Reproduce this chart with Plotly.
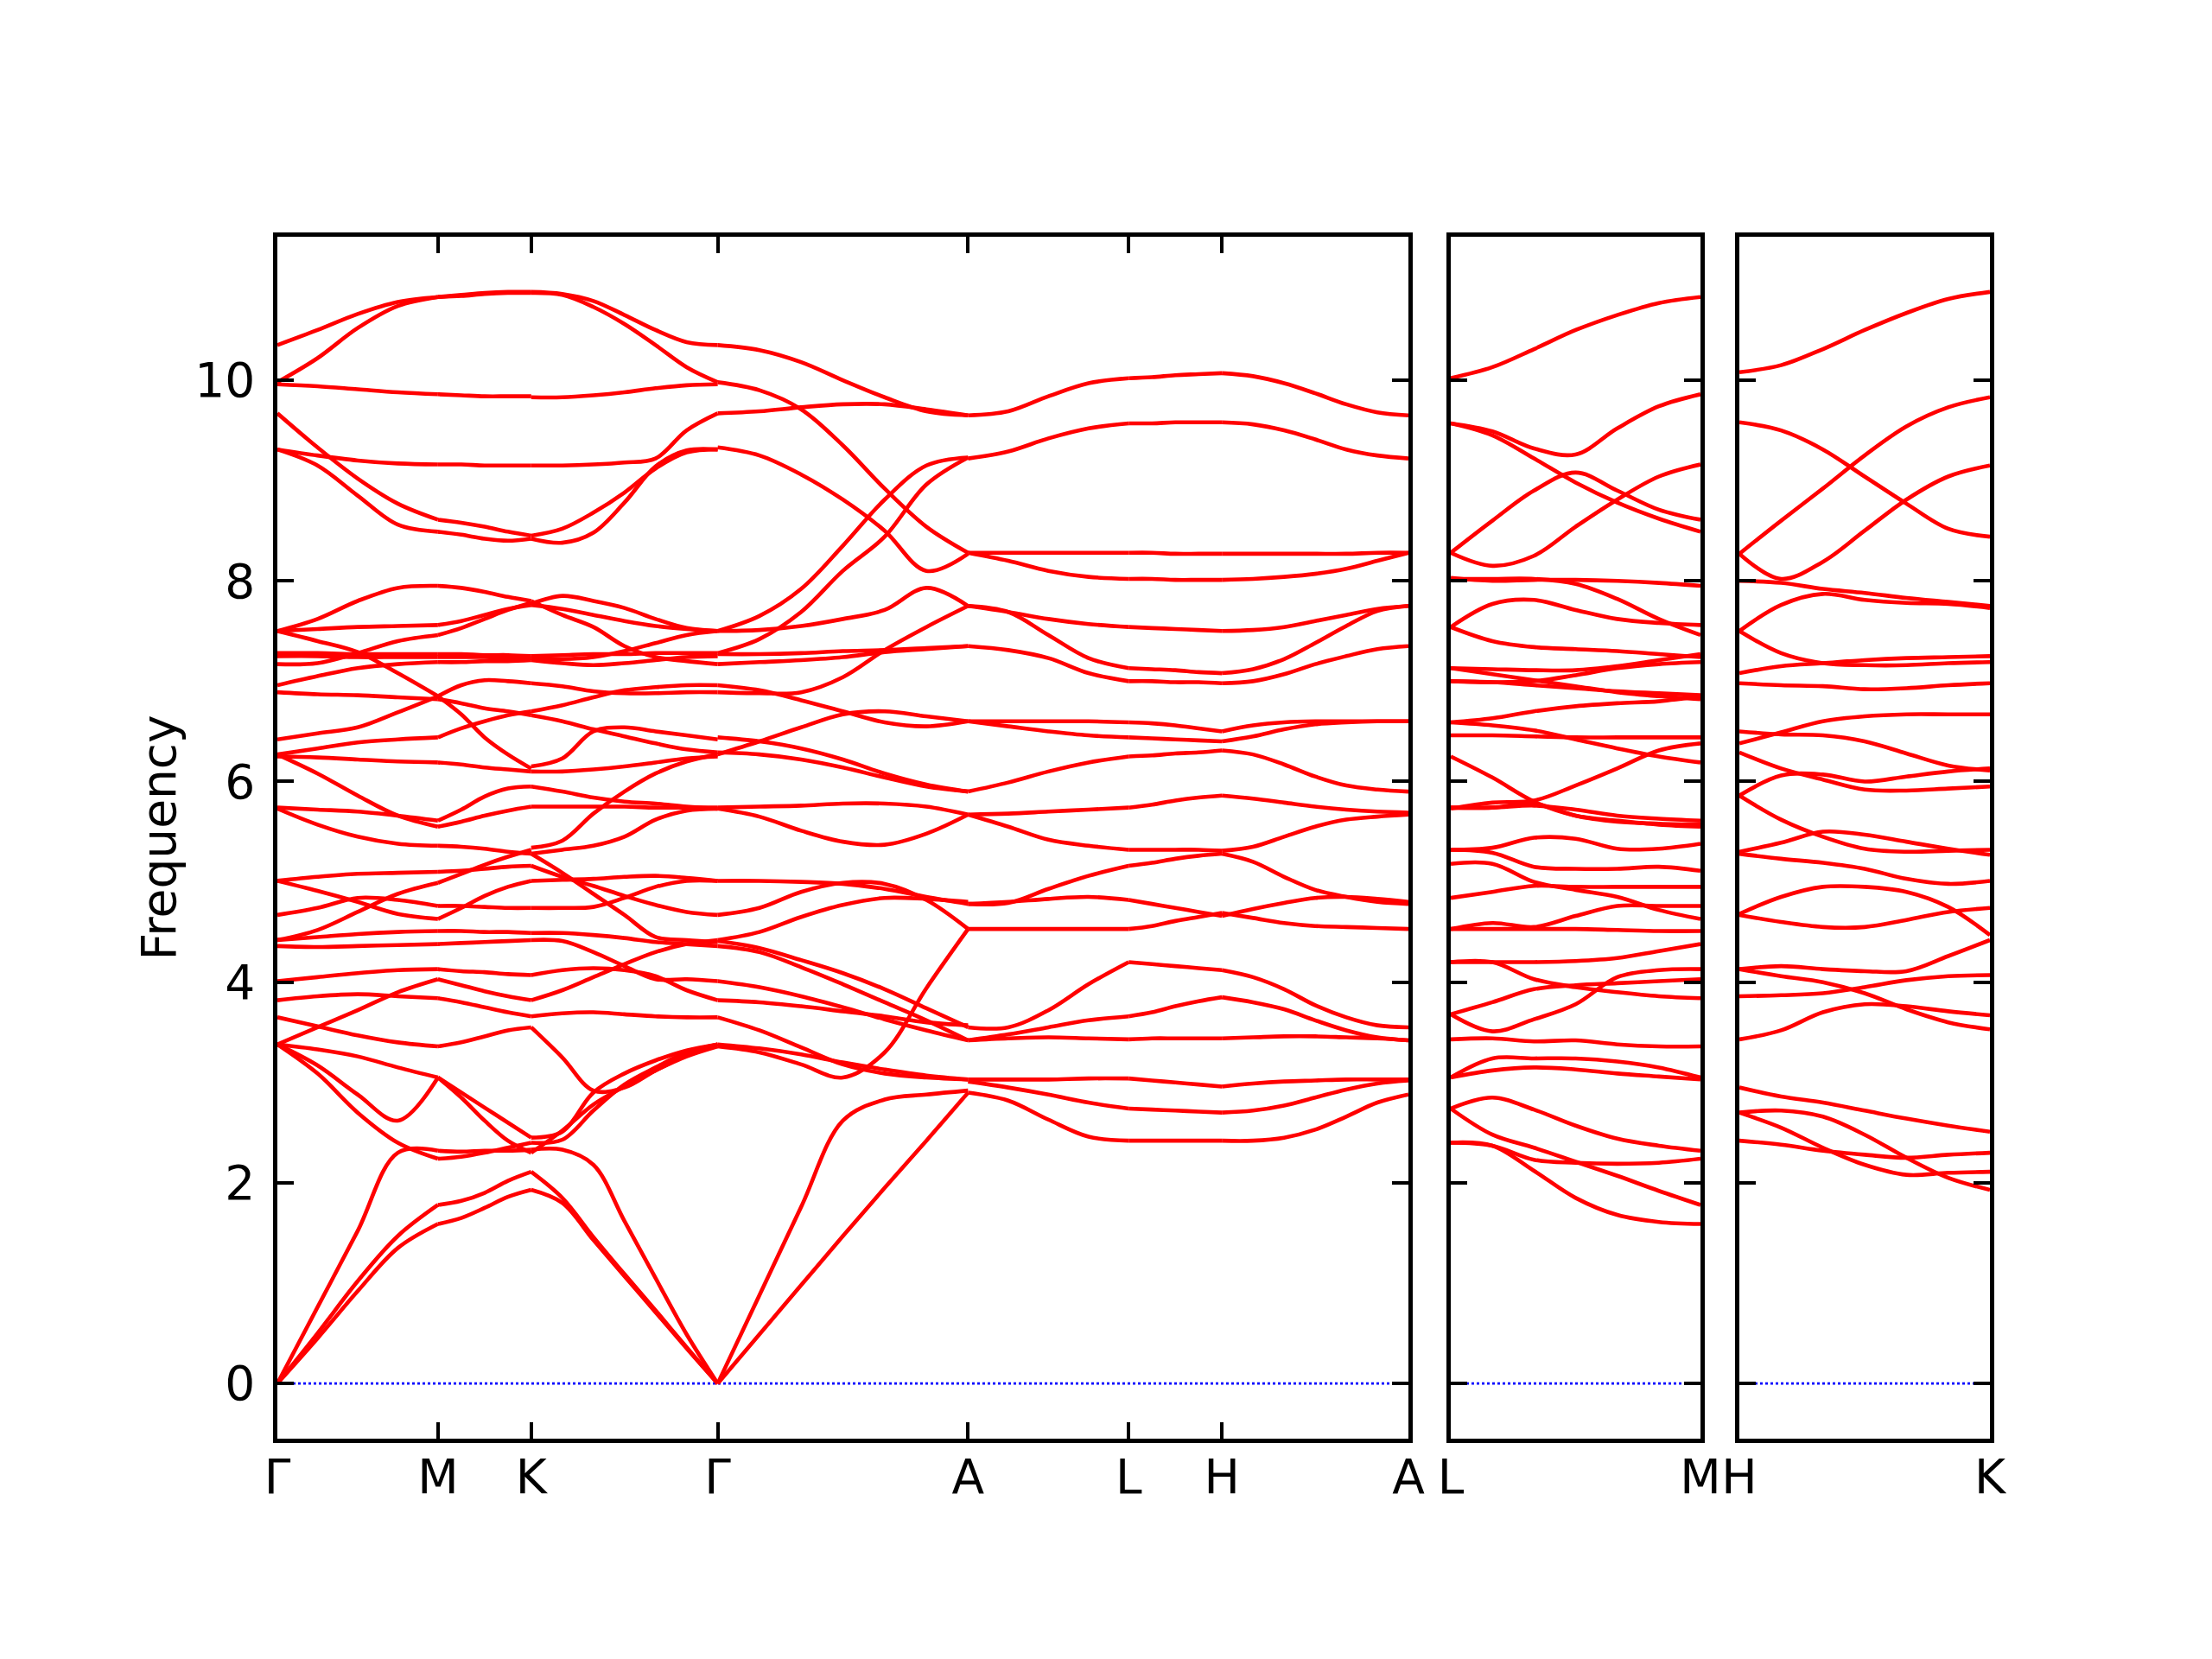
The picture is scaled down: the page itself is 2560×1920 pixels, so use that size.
import numpy as np
import plotly.graph_objects as go

# ---------------- labels / path geometry ----------------
p1_labels = ["Γ", "M", "K", "Γ", "A", "L", "H", "A"]
p1_seg_len = [186, 108, 216, 290, 186, 108, 216]
p2_labels = ["L", "M"]
p2_seg_len = [290]
p3_labels = ["H", "K"]
p3_seg_len = [290]
y_ticks = [0, 2, 4, 6, 8, 10]

# ---------------- band frequencies (THz) sampled evenly along each segment ----------------
band_G_M = [
    [10.35, 10.50, 10.66, 10.78, 10.83],
    [9.98, 10.22, 10.52, 10.74, 10.83],
    [9.96, 9.94, 9.91, 9.88, 9.86],
    [9.67, 9.33, 9.02, 8.77, 8.61],
    [9.31, 9.15, 8.85, 8.56, 8.49],
    [9.31, 9.25, 9.20, 9.17, 9.16],
    [7.50, 7.62, 7.80, 7.93, 7.95],
    [7.50, 7.52, 7.54, 7.55, 7.56],
    [7.50, 7.40, 7.29, 7.08, 6.85],
    [7.28, 7.28, 7.27, 7.27, 7.27],
    [7.25, 7.25, 7.24, 7.24, 7.24],
    [7.17, 7.18, 7.28, 7.40, 7.46],
    [6.96, 7.05, 7.13, 7.17, 7.19],
    [6.89, 6.87, 6.86, 6.84, 6.82],
    [6.42, 6.48, 6.54, 6.69, 6.85],
    [6.25, 6.24, 6.22, 6.20, 6.19],
    [6.27, 6.33, 6.39, 6.42, 6.44],
    [6.27, 6.08, 5.86, 5.66, 5.55],
    [5.74, 5.72, 5.70, 5.66, 5.61],
    [5.73, 5.57, 5.45, 5.38, 5.36],
    [5.01, 5.05, 5.08, 5.09, 5.10],
    [5.01, 4.91, 4.80, 4.68, 4.63],
    [4.67, 4.74, 4.84, 4.82, 4.76],
    [4.42, 4.45, 4.48, 4.50, 4.51],
    [4.42, 4.52, 4.70, 4.88, 4.99],
    [4.36, 4.35, 4.36, 4.37, 4.38],
    [4.01, 4.05, 4.09, 4.12, 4.13],
    [3.82, 3.86, 3.88, 3.86, 3.84],
    [3.65, 3.56, 3.47, 3.40, 3.36],
    [3.38, 3.55, 3.72, 3.90, 4.03],
    [3.38, 3.33, 3.26, 3.15, 3.05],
    [3.38, 3.17, 2.88, 2.62, 3.05],
    [3.38, 3.09, 2.70, 2.40, 2.24],
    [0.00, 0.76, 1.52, 2.30, 2.32],
    [0.00, 0.50, 1.02, 1.47, 1.78],
    [0.00, 0.45, 0.92, 1.35, 1.59],
]

band_M_K = [
    [10.83, 10.85, 10.87, 10.88, 10.88],
    [10.83, 10.84, 10.86, 10.87, 10.87],
    [9.86, 9.85, 9.84, 9.84, 9.84],
    [9.16, 9.16, 9.15, 9.15, 9.15],
    [8.61, 8.58, 8.54, 8.49, 8.45],
    [8.49, 8.46, 8.42, 8.40, 8.42],
    [7.95, 7.93, 7.89, 7.84, 7.80],
    [7.56, 7.60, 7.66, 7.72, 7.76],
    [7.46, 7.53, 7.62, 7.71, 7.78],
    [7.27, 7.27, 7.26, 7.26, 7.25],
    [7.24, 7.24, 7.24, 7.23, 7.23],
    [7.19, 7.19, 7.20, 7.20, 7.21],
    [6.85, 6.67, 6.44, 6.27, 6.13],
    [6.85, 6.96, 7.01, 7.00, 6.98],
    [6.82, 6.78, 6.73, 6.70, 6.66],
    [6.44, 6.53, 6.60, 6.66, 6.70],
    [6.19, 6.17, 6.14, 6.12, 6.10],
    [5.61, 5.72, 5.85, 5.93, 5.95],
    [5.55, 5.60, 5.66, 5.71, 5.75],
    [5.36, 5.35, 5.33, 5.30, 5.28],
    [4.99, 5.08, 5.17, 5.25, 5.32],
    [5.10, 5.11, 5.13, 5.15, 5.16],
    [4.76, 4.76, 4.75, 4.74, 4.74],
    [4.63, 4.74, 4.86, 4.95, 5.01],
    [4.51, 4.51, 4.50, 4.50, 4.49],
    [4.38, 4.39, 4.40, 4.41, 4.42],
    [4.13, 4.11, 4.10, 4.08, 4.07],
    [4.03, 3.97, 3.91, 3.86, 3.82],
    [3.84, 3.80, 3.75, 3.70, 3.66],
    [3.36, 3.40, 3.46, 3.52, 3.55],
    [3.05, 2.90, 2.75, 2.60, 2.45],
    [3.05, 2.85, 2.62, 2.42, 2.30],
    [2.32, 2.31, 2.32, 2.32, 2.33],
    [2.24, 2.26, 2.30, 2.35, 2.40],
    [1.78, 1.82, 1.90, 2.02, 2.11],
    [1.59, 1.65, 1.75, 1.86, 1.93],
]

band_K_G = [
    [10.88, 10.86, 10.79, 10.65, 10.50, 10.38, 10.35],
    [10.87, 10.85, 10.73, 10.56, 10.35, 10.13, 9.98],
    [9.83, 9.83, 9.85, 9.88, 9.92, 9.95, 9.96],
    [9.15, 9.15, 9.16, 9.18, 9.22, 9.50, 9.67],
    [8.45, 8.52, 8.68, 8.88, 9.12, 9.28, 9.31],
    [8.42, 8.38, 8.48, 8.78, 9.14, 9.30, 9.31],
    [7.77, 7.85, 7.80, 7.73, 7.62, 7.53, 7.50],
    [7.80, 7.66, 7.54, 7.35, 7.24, 7.20, 7.17],
    [7.76, 7.72, 7.66, 7.60, 7.55, 7.52, 7.50],
    [7.25, 7.26, 7.27, 7.27, 7.28, 7.28, 7.28],
    [7.23, 7.22, 7.24, 7.30, 7.38, 7.46, 7.50],
    [7.21, 7.18, 7.16, 7.18, 7.21, 7.24, 7.25],
    [6.98, 6.95, 6.90, 6.88, 6.88, 6.89, 6.89],
    [6.70, 6.76, 6.84, 6.91, 6.94, 6.96, 6.96],
    [6.66, 6.60, 6.52, 6.45, 6.38, 6.32, 6.29],
    [6.15, 6.23, 6.50, 6.54, 6.50, 6.46, 6.42],
    [6.10, 6.10, 6.12, 6.15, 6.19, 6.23, 6.25],
    [5.34, 5.41, 5.68, 5.90, 6.08, 6.20, 6.27],
    [5.95, 5.90, 5.84, 5.80, 5.78, 5.75, 5.73],
    [5.75, 5.75, 5.75, 5.75, 5.74, 5.74, 5.74],
    [5.28, 5.32, 5.36, 5.45, 5.62, 5.71, 5.73],
    [5.28, 5.09, 4.88, 4.67, 4.45, 4.42, 4.40],
    [5.01, 5.02, 5.03, 5.05, 5.06, 5.04, 5.01],
    [5.16, 5.05, 4.96, 4.86, 4.77, 4.70, 4.67],
    [4.74, 4.74, 4.75, 4.84, 4.95, 5.01, 5.01],
    [4.49, 4.49, 4.47, 4.44, 4.40, 4.38, 4.36],
    [4.42, 4.41, 4.30, 4.16, 4.03, 4.03, 4.01],
    [4.07, 4.12, 4.14, 4.12, 4.06, 3.92, 3.82],
    [3.82, 3.92, 4.05, 4.18, 4.30, 4.38, 4.42],
    [3.66, 3.69, 3.70, 3.68, 3.66, 3.65, 3.65],
    [3.55, 3.25, 2.92, 2.95, 3.12, 3.27, 3.38],
    [2.45, 2.51, 2.90, 3.09, 3.22, 3.32, 3.38],
    [2.40, 2.43, 2.72, 2.98, 3.15, 3.30, 3.38],
    [2.30, 2.52, 2.78, 2.96, 3.12, 3.26, 3.36],
    [2.33, 2.33, 2.18, 1.62, 1.05, 0.49, 0.00],
    [2.11, 1.85, 1.46, 1.09, 0.73, 0.36, 0.00],
    [1.93, 1.80, 1.43, 1.07, 0.71, 0.35, 0.00],
]

band_G_A = [
    [10.35, 10.30, 10.18, 10.00, 9.83, 9.69, 9.65],
    [9.98, 9.90, 9.71, 9.35, 8.92, 8.54, 8.28],
    [9.67, 9.69, 9.73, 9.76, 9.76, 9.71, 9.65],
    [9.33, 9.25, 9.06, 8.81, 8.50, 8.10, 8.27],
    [7.50, 7.65, 7.92, 8.35, 8.81, 9.15, 9.23],
    [7.28, 7.42, 7.69, 8.10, 8.44, 8.96, 9.23],
    [7.50, 7.51, 7.55, 7.62, 7.71, 7.93, 7.75],
    [7.27, 7.27, 7.28, 7.30, 7.31, 7.33, 7.35],
    [7.17, 7.19, 7.21, 7.24, 7.29, 7.32, 7.35],
    [6.96, 6.91, 6.81, 6.70, 6.59, 6.55, 6.60],
    [6.89, 6.88, 6.89, 7.04, 7.31, 7.54, 7.75],
    [6.44, 6.40, 6.33, 6.22, 6.08, 5.97, 5.90],
    [6.29, 6.27, 6.22, 6.14, 6.04, 5.95, 5.90],
    [6.27, 6.40, 6.54, 6.67, 6.70, 6.65, 6.60],
    [5.74, 5.75, 5.76, 5.78, 5.78, 5.75, 5.67],
    [5.73, 5.65, 5.51, 5.40, 5.37, 5.48, 5.67],
    [5.01, 5.01, 5.00, 4.98, 4.93, 4.85, 4.78],
    [4.67, 4.74, 4.90, 4.99, 4.98, 4.82, 4.53],
    [4.42, 4.50, 4.65, 4.77, 4.84, 4.83, 4.80],
    [4.41, 4.34, 4.22, 4.09, 3.93, 3.74, 3.55],
    [4.36, 4.30, 4.15, 3.98, 3.80, 3.62, 3.42],
    [4.01, 3.95, 3.86, 3.75, 3.63, 3.52, 3.42],
    [3.82, 3.80, 3.76, 3.71, 3.66, 3.60, 3.57],
    [3.65, 3.52, 3.35, 3.18, 3.09, 3.05, 3.03],
    [3.38, 3.34, 3.28, 3.20, 3.13, 3.07, 3.03],
    [3.36, 3.30, 3.18, 3.05, 3.30, 3.94, 4.53],
    [0.00, 0.88, 1.76, 2.62, 2.83, 2.88, 2.92],
    [0.00, 0.49, 0.98, 1.47, 1.95, 2.42, 2.90],
]

band_A_L = [
    [9.65, 9.69, 9.84, 9.97, 10.02],
    [9.22, 9.29, 9.42, 9.52, 9.57],
    [8.28, 8.28, 8.28, 8.28, 8.28],
    [8.28, 8.20, 8.10, 8.04, 8.02],
    [7.75, 7.69, 7.62, 7.57, 7.54],
    [7.75, 7.69, 7.46, 7.23, 7.13],
    [7.35, 7.31, 7.23, 7.08, 7.00],
    [6.60, 6.60, 6.60, 6.60, 6.59],
    [6.60, 6.55, 6.50, 6.46, 6.44],
    [5.90, 5.99, 6.10, 6.19, 6.25],
    [5.67, 5.68, 5.70, 5.72, 5.74],
    [5.67, 5.55, 5.42, 5.36, 5.32],
    [4.78, 4.79, 4.93, 5.06, 5.16],
    [4.78, 4.80, 4.83, 4.85, 4.82],
    [4.53, 4.53, 4.53, 4.53, 4.53],
    [3.55, 3.55, 3.72, 3.98, 4.20],
    [3.42, 3.48, 3.55, 3.62, 3.66],
    [3.42, 3.44, 3.45, 3.44, 3.43],
    [3.03, 3.03, 3.03, 3.04, 3.04],
    [3.01, 2.95, 2.88, 2.80, 2.74],
    [2.90, 2.82, 2.63, 2.46, 2.42],
]

band_L_H = [
    [10.02, 10.03, 10.05, 10.06, 10.07],
    [9.57, 9.57, 9.58, 9.58, 9.58],
    [8.28, 8.28, 8.27, 8.27, 8.27],
    [8.02, 8.02, 8.01, 8.01, 8.01],
    [7.54, 7.53, 7.52, 7.51, 7.50],
    [7.13, 7.12, 7.11, 7.09, 7.08],
    [7.00, 7.00, 6.99, 6.99, 6.98],
    [6.59, 6.58, 6.56, 6.53, 6.50],
    [6.44, 6.43, 6.42, 6.41, 6.40],
    [6.25, 6.26, 6.28, 6.29, 6.31],
    [5.74, 5.77, 5.81, 5.84, 5.86],
    [5.32, 5.32, 5.32, 5.32, 5.31],
    [5.16, 5.19, 5.23, 5.26, 5.28],
    [4.82, 4.78, 4.74, 4.70, 4.66],
    [4.53, 4.56, 4.61, 4.65, 4.69],
    [4.20, 4.18, 4.16, 4.14, 4.12],
    [3.66, 3.70, 3.76, 3.81, 3.85],
    [3.43, 3.44, 3.44, 3.44, 3.44],
    [3.04, 3.02, 3.00, 2.98, 2.96],
    [2.74, 2.73, 2.72, 2.71, 2.70],
    [2.42, 2.42, 2.42, 2.42, 2.42],
]

band_H_A = [
    [10.07, 10.04, 9.97, 9.87, 9.76, 9.68, 9.65],
    [9.58, 9.56, 9.50, 9.41, 9.31, 9.25, 9.22],
    [8.27, 8.27, 8.27, 8.27, 8.27, 8.28, 8.28],
    [8.01, 8.02, 8.04, 8.07, 8.12, 8.20, 8.28],
    [7.50, 7.51, 7.54, 7.60, 7.66, 7.72, 7.75],
    [7.08, 7.12, 7.22, 7.38, 7.55, 7.70, 7.75],
    [6.98, 7.00, 7.07, 7.17, 7.25, 7.32, 7.35],
    [6.50, 6.56, 6.59, 6.60, 6.60, 6.60, 6.60],
    [6.40, 6.45, 6.52, 6.57, 6.59, 6.60, 6.60],
    [6.31, 6.27, 6.17, 6.05, 5.96, 5.92, 5.90],
    [5.86, 5.83, 5.79, 5.75, 5.72, 5.70, 5.69],
    [5.31, 5.35, 5.45, 5.55, 5.62, 5.65, 5.67],
    [5.28, 5.20, 5.05, 4.92, 4.85, 4.80, 4.78],
    [4.66, 4.73, 4.79, 4.84, 4.85, 4.83, 4.80],
    [4.69, 4.64, 4.59, 4.56, 4.55, 4.54, 4.53],
    [4.12, 4.05, 3.93, 3.77, 3.65, 3.57, 3.55],
    [3.85, 3.80, 3.73, 3.62, 3.52, 3.45, 3.42],
    [3.44, 3.45, 3.46, 3.46, 3.45, 3.44, 3.42],
    [2.96, 2.99, 3.01, 3.02, 3.03, 3.03, 3.03],
    [2.70, 2.72, 2.77, 2.85, 2.93, 2.99, 3.02],
    [2.42, 2.42, 2.45, 2.53, 2.66, 2.80, 2.88],
]

band_L_M = [
    [10.02, 10.13, 10.31, 10.50, 10.65, 10.77, 10.83],
    [9.57, 9.49, 9.32, 9.26, 9.52, 9.74, 9.86],
    [9.57, 9.45, 9.22, 8.98, 8.78, 8.62, 8.49],
    [8.28, 8.60, 8.90, 9.08, 8.90, 8.71, 8.61],
    [8.28, 8.15, 8.25, 8.54, 8.81, 9.04, 9.16],
    [8.03, 8.00, 8.01, 8.01, 8.00, 7.98, 7.95],
    [8.02, 8.02, 8.02, 7.97, 7.82, 7.62, 7.46],
    [7.54, 7.77, 7.81, 7.71, 7.62, 7.58, 7.56],
    [7.54, 7.40, 7.34, 7.32, 7.30, 7.27, 7.24],
    [7.13, 7.12, 7.11, 7.11, 7.15, 7.21, 7.27],
    [7.00, 6.99, 7.00, 7.06, 7.13, 7.17, 7.19],
    [7.00, 6.99, 6.96, 6.93, 6.90, 6.88, 6.86],
    [7.13, 7.07, 7.01, 6.95, 6.89, 6.85, 6.82],
    [6.59, 6.63, 6.70, 6.75, 6.78, 6.80, 6.85],
    [6.59, 6.56, 6.51, 6.42, 6.33, 6.25, 6.19],
    [6.46, 6.46, 6.45, 6.44, 6.44, 6.44, 6.44],
    [6.25, 6.04, 5.80, 5.66, 5.60, 5.58, 5.57],
    [5.73, 5.79, 5.81, 5.96, 6.13, 6.31, 6.38],
    [5.74, 5.74, 5.78, 5.66, 5.61, 5.57, 5.55],
    [5.74, 5.74, 5.76, 5.72, 5.66, 5.63, 5.61],
    [5.32, 5.34, 5.44, 5.43, 5.33, 5.33, 5.38],
    [5.32, 5.29, 5.15, 5.13, 5.13, 5.15, 5.11],
    [5.18, 5.18, 5.00, 4.92, 4.85, 4.72, 4.63],
    [4.84, 4.90, 4.96, 4.95, 4.95, 4.95, 4.95],
    [4.53, 4.59, 4.55, 4.66, 4.76, 4.76, 4.76],
    [4.53, 4.53, 4.53, 4.53, 4.52, 4.51, 4.51],
    [4.20, 4.20, 4.20, 4.21, 4.24, 4.31, 4.38],
    [4.20, 4.20, 4.03, 3.95, 3.90, 3.86, 3.84],
    [3.68, 3.51, 3.63, 3.78, 4.05, 4.12, 4.13],
    [3.68, 3.80, 3.93, 3.97, 3.99, 4.01, 4.03],
    [3.43, 3.44, 3.41, 3.42, 3.38, 3.36, 3.36],
    [3.05, 3.24, 3.24, 3.24, 3.21, 3.15, 3.05],
    [3.05, 3.12, 3.15, 3.13, 3.09, 3.06, 3.03],
    [2.74, 2.85, 2.73, 2.57, 2.44, 2.37, 2.32],
    [2.74, 2.48, 2.35, 2.21, 2.07, 1.92, 1.78],
    [2.40, 2.37, 2.23, 2.20, 2.19, 2.20, 2.24],
    [2.40, 2.37, 2.12, 1.85, 1.68, 1.61, 1.59],
]

band_H_K = [
    [10.08, 10.15, 10.31, 10.50, 10.67, 10.81, 10.88],
    [9.58, 9.50, 9.31, 9.04, 8.77, 8.52, 8.44],
    [8.27, 8.60, 8.92, 9.25, 9.54, 9.73, 9.83],
    [8.27, 8.02, 8.19, 8.50, 8.81, 9.04, 9.15],
    [8.00, 7.98, 7.92, 7.88, 7.83, 7.79, 7.75],
    [7.50, 7.76, 7.87, 7.81, 7.78, 7.77, 7.73],
    [7.50, 7.28, 7.18, 7.16, 7.16, 7.18, 7.19],
    [7.08, 7.15, 7.18, 7.21, 7.23, 7.24, 7.25],
    [6.98, 6.96, 6.95, 6.92, 6.93, 6.96, 6.98],
    [6.50, 6.47, 6.46, 6.40, 6.28, 6.16, 6.11],
    [6.38, 6.49, 6.60, 6.65, 6.67, 6.67, 6.67],
    [6.29, 6.13, 6.02, 5.92, 5.91, 5.93, 5.95],
    [5.86, 6.06, 6.07, 6.00, 6.05, 6.10, 6.13],
    [5.86, 5.62, 5.45, 5.33, 5.30, 5.31, 5.32],
    [5.30, 5.39, 5.50, 5.47, 5.40, 5.33, 5.27],
    [5.28, 5.23, 5.19, 5.13, 5.03, 4.98, 5.01],
    [4.68, 4.85, 4.95, 4.95, 4.90, 4.75, 4.47],
    [4.67, 4.60, 4.55, 4.55, 4.62, 4.70, 4.74],
    [4.13, 4.16, 4.13, 4.11, 4.11, 4.26, 4.42],
    [4.13, 4.06, 4.00, 3.89, 3.73, 3.60, 3.53],
    [3.86, 3.87, 3.89, 3.95, 4.02, 4.06, 4.07],
    [3.43, 3.52, 3.70, 3.78, 3.76, 3.71, 3.67],
    [2.95, 2.86, 2.80, 2.72, 2.64, 2.57, 2.51],
    [2.70, 2.72, 2.66, 2.48, 2.25, 2.05, 1.93],
    [2.70, 2.55, 2.35, 2.18, 2.08, 2.10, 2.11],
    [2.42, 2.38, 2.32, 2.28, 2.25, 2.28, 2.30],
]

panel1_bands = [band_G_M, band_M_K, band_K_G, band_G_A, band_A_L, band_L_H, band_H_A]
panel2_bands = [band_L_M]
panel3_bands = [band_H_K]

# ---------------- figure geometry (pixels, page has an 8px body offset) ----------------
W, H = 2560, 1920
OFF = 8
L_PX, R_PX, T_PX, B_PX = 321 - OFF, 2303 - OFF, 274 - OFF, 1665 - OFF
panel_px = [(321 - OFF, 1630 - OFF), (1679 - OFF, 1968 - OFF), (2013 - OFF, 2303 - OFF)]
PW = R_PX - L_PX
y_range = [-0.55, 11.43]
RED = "#ff0000"
FONT = "DejaVu Sans"
FS = 55

fig = go.Figure()


def add_panel(idx, seg_lens, seg_bands):
    ax = "" if idx == 1 else str(idx)
    cum = np.concatenate([[0], np.cumsum(seg_lens)])
    fig.add_trace(go.Scatter(x=[0, cum[-1]], y=[0, 0], mode="lines",
                             line=dict(color="#0000ff", width=2.7, dash="dot"),
                             xaxis="x" + ax, yaxis="y" + ax, hoverinfo="skip",
                             showlegend=False))
    for s, bands in enumerate(seg_bands):
        xs_all, ys_all = [], []
        for band in bands:
            xs = np.linspace(cum[s], cum[s + 1], len(band))
            xs_all += list(xs) + [None]
            ys_all += list(band) + [None]
        fig.add_trace(go.Scatter(x=xs_all, y=ys_all, mode="lines",
                                 line=dict(color=RED, width=4.6, shape="spline", smoothing=1.0),
                                 xaxis="x" + ax, yaxis="y" + ax, hoverinfo="skip",
                                 showlegend=False))
    return cum


cum1 = add_panel(1, p1_seg_len, panel1_bands)
cum2 = add_panel(2, p2_seg_len, panel2_bands)
cum3 = add_panel(3, p3_seg_len, panel3_bands)

axis_common = dict(showline=True, linewidth=4.6, linecolor="black", mirror="ticks",
                   ticks="inside", ticklen=19, tickwidth=4.4, tickcolor="black",
                   showgrid=False, zeroline=False,
                   tickfont=dict(family=FONT, size=FS, color="black"))

layout = dict(width=W, height=H, plot_bgcolor="white", paper_bgcolor="white",
              margin=dict(l=L_PX, r=W - R_PX, t=T_PX, b=H - B_PX, pad=0),
              showlegend=False)

for i, ((x0, x1), cum, labels) in enumerate(zip(panel_px, [cum1, cum2, cum3],
                                                 [p1_labels, p2_labels, p3_labels]), start=1):
    ax = "" if i == 1 else str(i)
    layout["xaxis" + ax] = dict(axis_common, domain=[(x0 - L_PX) / PW, (x1 - L_PX) / PW],
                                range=[0, cum[-1]], tickvals=list(cum), ticktext=labels,
                                anchor="y" + ax, ticklabelstandoff=-8)
    layout["yaxis" + ax] = dict(axis_common, domain=[0, 1], range=y_range,
                                tickvals=y_ticks, ticktext=[str(v) for v in y_ticks],
                                showticklabels=(i == 1), anchor="x" + ax,
                                ticklabelstandoff=10)

fig.update_layout(**layout)
fig.add_annotation(text="Frequency", xref="paper", yref="paper",
                   x=(183 - OFF - L_PX) / PW, y=0.5, textangle=-90, showarrow=False,
                   xanchor="center", yanchor="middle",
                   font=dict(family=FONT, size=FS, color="black"))

fig.write_html("out.html")
